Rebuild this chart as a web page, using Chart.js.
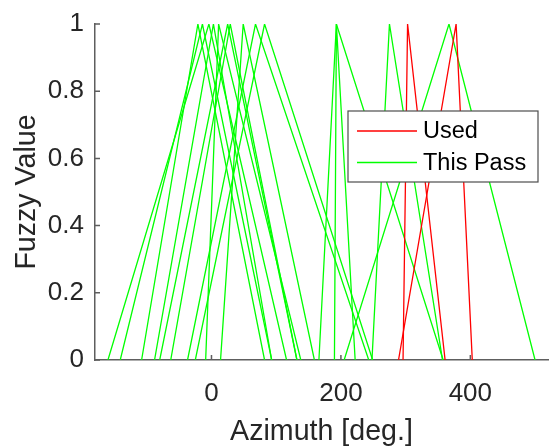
<!DOCTYPE html>
<html>
<head>
<meta charset="utf-8">
<script src="https://cdn.jsdelivr.net/npm/chart.js@4.4.0/dist/chart.umd.min.js"></script>
<style>
  html, body { margin: 0; padding: 0; background: #fff; }
</style>
</head>
<body>
<canvas id="fuzzyChart" width="560" height="447"></canvas>
<script>
// each triangle: [left foot, peak, right foot] in deg
const usedTri = [[296, 303, 361], [289, 378, 403]];
const passTri = [
  [-160, -4, 116],
  [-141, -14, 93],
  [-108, -21, 82],
  [-88, 3, 93],
  [-80, 25, 132],
  [-63, 29, 132],
  [-25, 82, 249],
  [-37, 68, 243],
  [-9, 11, 138],
  [14, 49, 159],
  [166, 193, 358],
  [190, 193, 222],
  [248, 275, 357],
  [205, 367, 500]
];
const xTicks = [0, 200, 400];
const yTicks = [0, 0.2, 0.4, 0.6, 0.8, 1];
const legendNames = ['Used', 'This Pass'];
const red = '#ff0000';
const green = '#00ff00';
const fontFam = '"Liberation Sans", Arial, Helvetica, sans-serif';
const txtColor = '#262626';
const axisColor = '#5e5e5e';

function triData(t) {
  return [{ x: t[0], y: 0 }, { x: t[1], y: 1 }, { x: t[2], y: 0 }];
}

const datasets = [];
usedTri.forEach(t => datasets.push({
  label: legendNames[0], data: triData(t), borderColor: red,
  borderWidth: 1.3, showLine: true, pointRadius: 0, tension: 0
}));
passTri.forEach(t => datasets.push({
  label: legendNames[1], data: triData(t), borderColor: green,
  borderWidth: 1.3, showLine: true, pointRadius: 0, tension: 0
}));

// matlab style ticks pointing into the plot
const inwardTicks = {
  id: 'inwardTicks',
  afterDatasetsDraw(chart) {
    const { ctx, chartArea: a, scales: { x, y } } = chart;
    ctx.save();
    ctx.strokeStyle = axisColor;
    ctx.lineWidth = 1.5;
    ctx.beginPath();
    x.ticks.forEach(t => {
      const px = x.getPixelForValue(t.value);
      ctx.moveTo(px, a.bottom); ctx.lineTo(px, a.bottom - 5);
    });
    y.ticks.forEach(t => {
      const py = y.getPixelForValue(t.value);
      ctx.moveTo(a.left, py); ctx.lineTo(a.left + 5, py);
    });
    ctx.stroke();
    ctx.restore();
  }
};

const boxLegend = {
  id: 'boxLegend',
  afterDraw(chart) {
    const ctx = chart.ctx;
    const bx = 348, by = 111, bw = 190, bh = 71;
    ctx.save();
    ctx.fillStyle = '#fff';
    ctx.fillRect(bx, by, bw, bh);
    ctx.strokeStyle = '#4d4d4d';
    ctx.lineWidth = 1.2;
    ctx.strokeRect(bx, by, bw, bh);
    const cols = [red, green];
    const rows = [131, 162.5];
    ctx.font = '23.5px ' + fontFam;
    ctx.textBaseline = 'middle';
    legendNames.forEach((n, i) => {
      ctx.strokeStyle = cols[i];
      ctx.lineWidth = 1.3;
      ctx.beginPath();
      ctx.moveTo(357, rows[i]); ctx.lineTo(417, rows[i]);
      ctx.stroke();
      ctx.fillStyle = '#000';
      ctx.fillText(n, 423, rows[i] + 1);
    });
    ctx.restore();
  }
};

const ctx = document.getElementById('fuzzyChart').getContext('2d');
const chart = new Chart(ctx, {
  type: 'scatter',
  data: { datasets: datasets },
  options: {
    responsive: false,
    animation: false,
    devicePixelRatio: 1,
    layout: { padding: { top: 19, right: 12, left: 0, bottom: 0 } },
    plugins: { legend: { display: false }, tooltip: { enabled: false } },
    scales: {
      x: {
        type: 'linear', min: -180, max: 520,
        afterBuildTicks: s => { s.ticks = xTicks.map(v => ({ value: v })); },
        afterFit: s => { s.height = 87; },
        grid: { display: false, drawTicks: false },
        border: { display: true, color: axisColor, width: 1.5 },
        ticks: { color: txtColor, font: { family: fontFam, size: 26, lineHeight: 1 }, padding: 21, maxRotation: 0, autoSkip: false,
          callback: v => String(v) },
        title: { display: true, text: 'Azimuth [deg.]', color: txtColor, font: { family: fontFam, size: 28.6, lineHeight: 1 }, padding: { top: 0, bottom: 1 } }
      },
      y: {
        type: 'linear', min: 0, max: 1,
        afterBuildTicks: s => { s.ticks = yTicks.map(v => ({ value: v })); },
        afterFit: s => { s.width = 95; },
        grid: { display: false, drawTicks: false },
        border: { display: true, color: axisColor, width: 1.5 },
        ticks: { color: txtColor, font: { family: fontFam, size: 26, lineHeight: 1 }, padding: 11, autoSkip: false,
          callback: v => String(Math.round(v * 10) / 10) },
        title: { display: true, text: 'Fuzzy Value', color: txtColor, font: { family: fontFam, size: 28.6, lineHeight: 1 }, padding: { top: 13, bottom: 0 } }
      }
    }
  },
  plugins: [inwardTicks, boxLegend]
});
</script>
</body>
</html>
